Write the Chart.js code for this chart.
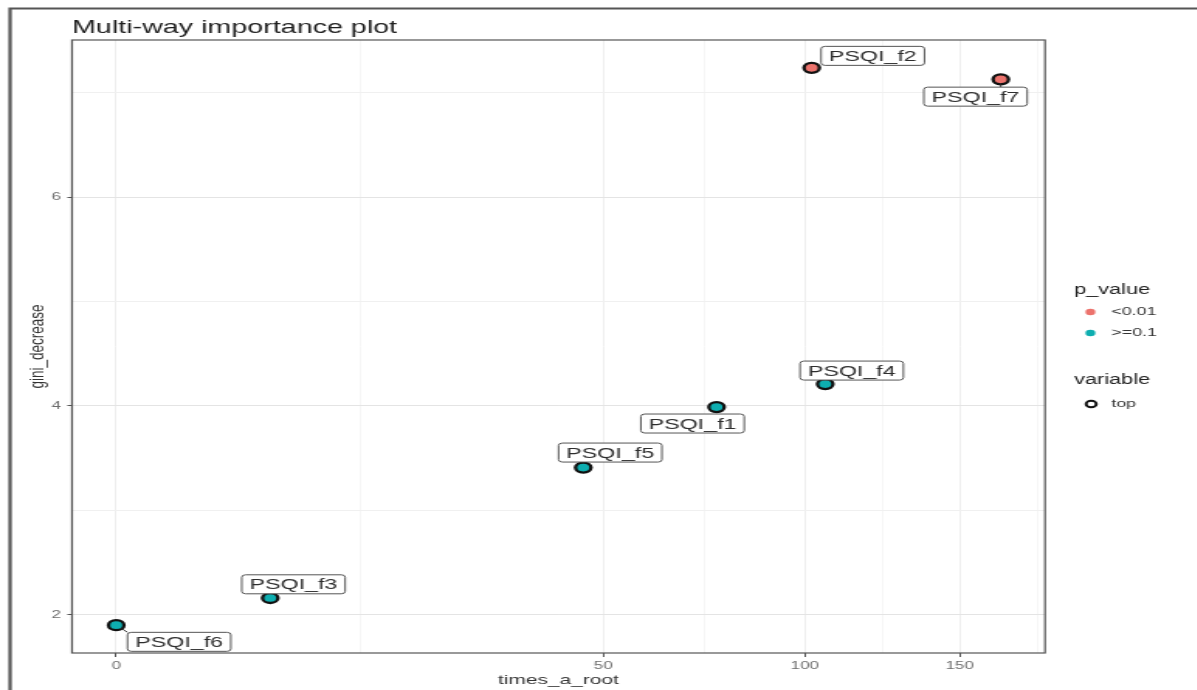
<!DOCTYPE html>
<html lang="en">
<head>
<meta charset="UTF-8">
<title>Multi-way importance plot</title>
<style>
    body { margin: 0; padding: 0; background: #fff; overflow: hidden; }
    #wrap { width: 1197px; height: 690px; }
    /* the reference picture is stretched sideways, so the canvas is too */
    #chart { display: block; transform: scaleX(1.55); transform-origin: 0 0; }
</style>
</head>
<body>
<div id="wrap"><canvas id="chart" width="772" height="690"></canvas></div>

<script src="https://cdn.jsdelivr.net/npm/chart.js"></script>
<script>
// data
const variables = ['PSQI_f6', 'PSQI_f3', 'PSQI_f5', 'PSQI_f1', 'PSQI_f4', 'PSQI_f2', 'PSQI_f7'];
const timesARoot = [0, 5, 46, 76, 106, 102, 165];
const giniDecrease = [1.90, 2.16, 3.41, 3.99, 4.21, 7.24, 7.13];
const pValue = ['>=0.1', '>=0.1', '>=0.1', '>=0.1', '>=0.1', '<0.01', '<0.01'];
const pValueLevels = ['<0.01', '>=0.1'];
const shapeLevels = ['top'];
const xTicks = [0, 50, 100, 150];
const yTicks = [2, 4, 6];

// layout: label box centre relative to its point (canvas px)
const labelNudge = [[40.6, 16.7], [15, -13.7], [17.4, -15], [-15.5, 16.5], [17.1, -13.5], [39.4, -12], [-16.3, 17.3]];
const levelColors = { '<0.01': '#ec736d', '>=0.1': '#0eaeb0' };
const FONT = "'Liberation Sans', Arial, sans-serif";

Chart.defaults.font.family = FONT;

const tf = v => Math.sign(v) * Math.sqrt(Math.abs(v));
const itf = t => Math.sign(t) * t * t;

// square-root axis like scale_x_sqrt()
class SqrtScale extends Chart.LinearScale {
    determineDataLimits() {
        super.determineDataLimits();
        const a = tf(this.min), b = tf(this.max), d = (b - a) * 0.05;
        this.min = itf(a - d);
        this.max = itf(b + d);
    }
    buildTicks() {
        const t = xTicks.map(tf);
        const ticks = xTicks.map(v => ({ value: v }));
        for (let i = 0; i < t.length - 1; i++) {
            ticks.push({ value: itf((t[i] + t[i + 1]) / 2), minor: true });
        }
        const last = t[t.length - 1], step = last - t[t.length - 2];
        ticks.push({ value: itf(last + step / 2), minor: true });
        return ticks.filter(k => k.value >= this.min && k.value <= this.max)
            .sort((p, q) => p.value - q.value);
    }
    configure() {
        super.configure();
        this._tMin = tf(this.min);
        this._tMax = tf(this.max);
    }
    getPixelForValue(v) {
        return this.getPixelForDecimal((tf(v) - this._tMin) / (this._tMax - this._tMin));
    }
    getValueForPixel(p) {
        return itf(this._tMin + this.getDecimalForPixel(p) * (this._tMax - this._tMin));
    }
}
SqrtScale.id = 'sqrt';
SqrtScale.defaults = Chart.LinearScale.defaults;
Chart.register(SqrtScale);

const yLo = Math.min(...giniDecrease), yHi = Math.max(...giniDecrease);
const yPad = (yHi - yLo) * 0.05;

// vertical lines get widened by the stretch, so they are drawn lighter
const xGrid = ctx => (ctx.tick && ctx.tick.minor) ? '#f6f6f6' : '#eeeeee';
const yGrid = ctx => (ctx.tick && ctx.tick.minor) ? '#f0f0f0' : '#e4e4e4';
const tickColor = ctx => (ctx.tick && ctx.tick.minor) ? 'rgba(0,0,0,0)' : '#555';
const tickLabel = (value, index, ticks) => ticks[index].minor ? '' : String(value);

const decor = {
    id: 'decor',
    beforeDraw(chart) {
        const ctx = chart.ctx;
        ctx.save();
        ctx.strokeStyle = '#555';
        ctx.lineWidth = 2.2;
        ctx.beginPath();
        ctx.moveTo(6.5, 690);
        ctx.lineTo(6.5, 8.5);
        ctx.lineTo(chart.width, 8.5);
        ctx.stroke();
        ctx.restore();
    },
    afterDatasetsDraw(chart) {
        const ctx = chart.ctx, area = chart.chartArea;
        const meta = chart.getDatasetMeta(0);
        ctx.save();

        // repelled labels
        ctx.font = '15px ' + FONT;
        variables.forEach((name, i) => {
            const pt = meta.data[i];
            const w = ctx.measureText(name).width + 10, h = 19;
            const cx = pt.x + labelNudge[i][0], cy = pt.y + labelNudge[i][1];
            const bx = cx - w / 2, by = cy - h / 2;
            const nx = Math.min(Math.max(pt.x, bx), bx + w);
            const ny = Math.min(Math.max(pt.y, by), by + h);
            const dist = Math.hypot(nx - pt.x, ny - pt.y);
            if (dist > 7) {
                ctx.strokeStyle = '#333';
                ctx.lineWidth = 1;
                ctx.beginPath();
                ctx.moveTo(pt.x + (nx - pt.x) * 5 / dist, pt.y + (ny - pt.y) * 5 / dist);
                ctx.lineTo(nx, ny);
                ctx.stroke();
            }
            ctx.fillStyle = '#fff';
            ctx.strokeStyle = '#555';
            ctx.lineWidth = 1;
            ctx.beginPath();
            ctx.roundRect(bx, by, w, h, 2.5);
            ctx.fill();
            ctx.stroke();
            ctx.fillStyle = '#2e2e2e';
            ctx.textAlign = 'center';
            ctx.textBaseline = 'middle';
            ctx.fillText(name, cx, cy + 1);
        });

        // panel border
        ctx.strokeStyle = '#555';
        ctx.lineWidth = 1.2;
        ctx.strokeRect(area.left, area.top, area.right - area.left, area.bottom - area.top);

        // title
        ctx.fillStyle = '#1e1e1e';
        ctx.textAlign = 'left';
        ctx.textBaseline = 'alphabetic';
        ctx.font = '18.5px ' + FONT;
        ctx.fillText('Multi-way importance plot', area.left, 32.5);

        // legends
        const lx = 693;
        ctx.textBaseline = 'middle';
        ctx.font = '14px ' + FONT;
        ctx.fillStyle = '#222';
        ctx.fillText('p_value', lx, 290);
        pValueLevels.forEach((lev, i) => {
            const y = 312 + i * 21;
            ctx.fillStyle = levelColors[lev];
            ctx.beginPath();
            ctx.arc(703.5, y, 3.2, 0, Math.PI * 2);
            ctx.fill();
            ctx.fillStyle = '#333';
            ctx.font = '11.5px ' + FONT;
            ctx.fillText(lev, 717, y);
        });
        ctx.font = '14px ' + FONT;
        ctx.fillStyle = '#222';
        ctx.fillText('variable', lx, 380);
        shapeLevels.forEach((lev, i) => {
            const y = 404 + i * 21;
            ctx.strokeStyle = '#111';
            ctx.lineWidth = 1.9;
            ctx.beginPath();
            ctx.arc(704, y, 3.3, 0, Math.PI * 2);
            ctx.stroke();
            ctx.fillStyle = '#333';
            ctx.font = '11.5px ' + FONT;
            ctx.fillText(lev, 717, y);
        });
        ctx.restore();
    }
};

new Chart(document.getElementById('chart'), {
    type: 'scatter',
    data: {
        datasets: [{
            label: 'variable',
            data: variables.map((v, i) => ({ x: timesARoot[i], y: giniDecrease[i] })),
            backgroundColor: ctx => levelColors[pValue[ctx.dataIndex]],
            borderColor: '#111',
            borderWidth: 2.3,
            pointRadius: 5,
            pointHoverRadius: 5
        }]
    },
    options: {
        responsive: false,
        animation: false,
        devicePixelRatio: 1,
        layout: { padding: { top: 40, right: 97.8, bottom: 0, left: 0 } },
        plugins: {
            legend: { display: false },
            tooltip: { enabled: false }
        },
        scales: {
            x: {
                type: 'sqrt',
                afterFit: s => { s.height = 37; },
                border: { display: false },
                grid: { color: xGrid, tickColor: tickColor, tickLength: 4, lineWidth: 1 },
                ticks: { autoSkip: false, maxRotation: 0, padding: 2, color: '#6e6e6e', font: { size: 11 }, callback: tickLabel },
                title: { display: true, text: 'times_a_root', color: '#333', font: { size: 13.5 }, padding: { top: 0, bottom: 2 } }
            },
            y: {
                type: 'linear',
                min: yLo - yPad,
                max: yHi + yPad,
                afterFit: s => { s.width = 46.45; },
                afterBuildTicks: s => {
                    const all = [];
                    for (let v = Math.ceil(s.min); v <= Math.floor(s.max); v++) {
                        all.push(yTicks.includes(v) ? { value: v } : { value: v, minor: true });
                    }
                    s.ticks = all;
                },
                border: { display: false },
                grid: { color: yGrid, tickColor: tickColor, tickLength: 3, lineWidth: 1 },
                ticks: { autoSkip: false, padding: 4, color: '#6e6e6e', font: { size: 11 }, callback: tickLabel },
                title: { display: true, text: 'gini_decrease', color: '#333', font: { size: 13.5 }, padding: { top: 16, bottom: 0 } }
            }
        }
    },
    plugins: [decor]
});
</script>
</body>
</html>
